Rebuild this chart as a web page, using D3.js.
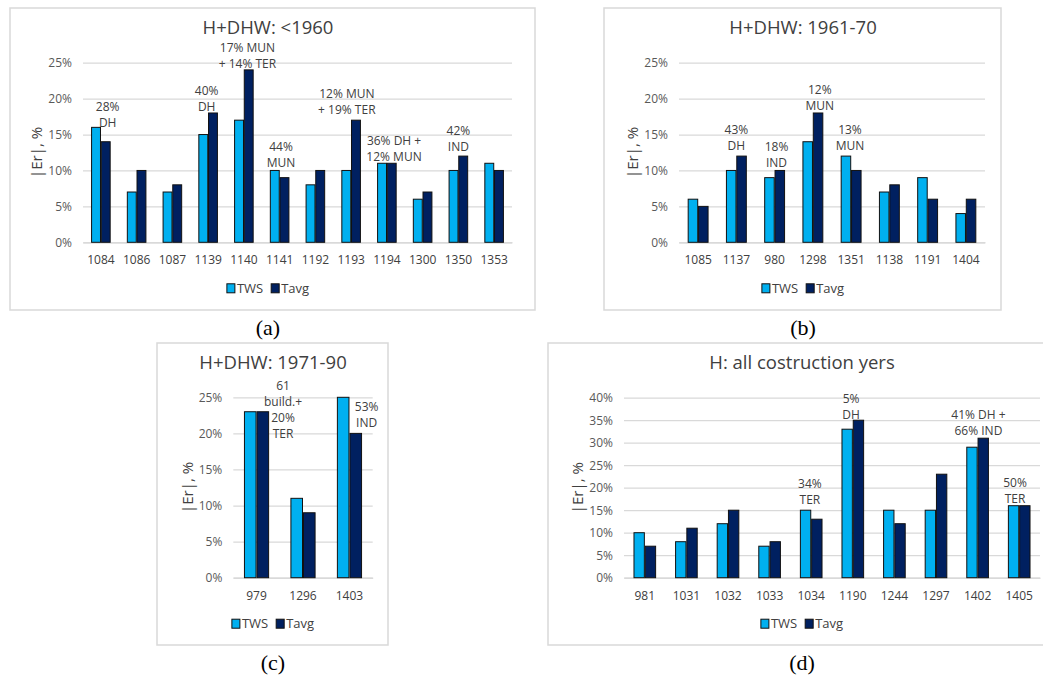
<!DOCTYPE html>
<html>
<head>
<meta charset="utf-8">
<script src="https://cdn.jsdelivr.net/npm/d3@7"></script>
<style>
  body { margin: 0; background: #fff; }
  svg { display: block; }
  text { font-family: "Open Sans", "Noto Sans", sans-serif; }
</style>
</head>
<body>
<svg id="chart" width="1043" height="680"></svg>
<script>
// ---- Data -------------------------------------------------------------
const seriesNames  = ["TWS", "Tavg"];
const seriesColors = ["#00B0F0", "#002060"];

const ticks25 = [0, 5, 10, 15, 20, 25];
const ticks40 = [0, 5, 10, 15, 20, 25, 30, 35, 40];

// (a) H+DHW, built before 1960
const catsA = ["1084", "1086", "1087", "1139", "1140", "1141", "1192", "1193", "1194", "1300", "1350", "1353"];
const twsA  = [16, 7, 7, 15, 17, 10, 8, 10, 11, 6, 10, 11];
const tavgA = [14, 10, 8, 18, 24, 9, 10, 17, 11, 7, 12, 10];
const notesA = [
  { cat: "1084", lines: ["28%", "DH"], at: 16.7 },
  { cat: "1139", lines: ["40%", "DH"], at: 18.8 },
  { cat: "1140", lines: ["17% MUN", "+ 14% TER"], at: 24.9 },
  { cat: "1141", lines: ["44%", "MUN"], at: 11.1 },
  { cat: "1193", lines: ["12% MUN", "+ 19% TER"], at: 18.4 },
  { cat: "1194", lines: ["36% DH +", "12% MUN"], at: 11.9 },
  { cat: "1350", lines: ["42%", "IND"], at: 13.3 }
];

// (b) H+DHW, built 1961-70
const catsB = ["1085", "1137", "980", "1298", "1351", "1138", "1191", "1404"];
const twsB  = [6, 10, 9, 14, 12, 7, 9, 4];
const tavgB = [5, 12, 10, 18, 10, 8, 6, 6];
const notesB = [
  { cat: "1137", lines: ["43%", "DH"], at: 13.4 },
  { cat: "980",  lines: ["18%", "IND"], at: 11.1 },
  { cat: "1298", lines: ["12%", "MUN"], at: 19.0 },
  { cat: "1351", lines: ["13%", "MUN"], at: 13.4 }
];

// (c) H+DHW, built 1971-90
const catsC = ["979", "1296", "1403"];
const twsC  = [23, 11, 25];
const tavgC = [23, 9, 20];
const notesC = [
  { cat: "979",  lines: ["61", "build.+", "20%", "TER"], at: 20.0 },
  { cat: "1403", lines: ["53%", "IND"], at: 21.4 }
];

// (d) H only, all construction years
const catsD = ["981", "1031", "1032", "1033", "1034", "1190", "1244", "1297", "1402", "1405"];
const twsD  = [10, 8, 12, 7, 15, 33, 15, 15, 29, 16];
const tavgD = [7, 11, 15, 8, 13, 35, 12, 23, 31, 16];
const notesD = [
  { cat: "1034", lines: ["34%", "TER"], at: 17.3 },
  { cat: "1190", lines: ["5%", "DH"], at: 36.3 },
  { cat: "1402", lines: ["41% DH +", "66% IND"], at: 32.6 },
  { cat: "1405", lines: ["50%", "TER"], at: 17.6 }
];

// ---- Layout -----------------------------------------------------------
// box: [x, y, w, h]; plot: [left, top, right, bottom]
// shift: horizontal nudge of a note, as a fraction of the category step
const panels = [
  { title: "H+DHW: <1960", tag: "(a)", cats: catsA, tws: twsA, tavg: tavgA, notes: notesA,
    ticks: ticks25, box: [10, 8, 525, 302], plot: [83, 62.7, 512, 242.3], center: 268,
    shift: { "1084": 0.19, "1139": -0.04, "1140": 0.1, "1141": 0.04, "1193": -0.12, "1194": 0.2, "1350": 0 } },
  { title: "H+DHW: 1961-70", tag: "(b)", cats: catsB, tws: twsB, tavg: tavgB, notes: notesB,
    ticks: ticks25, box: [604, 8, 397, 302], plot: [679, 62.7, 985, 242.3], center: 803,
    shift: { "1137": 0, "980": 0.05, "1298": 0.18, "1351": -0.03 } },
  { title: "H+DHW: 1971-90", tag: "(c)", cats: catsC, tws: twsC, tavg: tavgC, notes: notesC,
    ticks: ticks25, box: [157, 343, 231, 302], plot: [233.3, 397.3, 372.7, 577.7], center: 273,
    shift: { "979": 0.57, "1403": 0.37 } },
  { title: "H: all costruction yers", tag: "(d)", cats: catsD, tws: twsD, tavg: tavgD, notes: notesD,
    ticks: ticks40, box: [548, 343, 510, 302], plot: [624, 397.7, 1040, 577.7], center: 802,
    shift: { "1034": -0.03, "1190": -0.04, "1402": 0.02, "1405": -0.1 } }
];

const svg = d3.select("#chart");
const textGrey = "#595959";
const darkGrey = "#404040";
const gridGrey = "#d9d9d9";

function drawPanel(p) {
  const [bx, by, bw, bh] = p.box;
  const [L, T, R, B] = p.plot;
  const cxPanel = p.center;
  const g = svg.append("g");

  g.append("rect")
    .attr("x", bx).attr("y", by).attr("width", bw).attr("height", bh)
    .attr("fill", "#fff").attr("stroke", gridGrey).attr("stroke-width", 1.5);

  const x = d3.scaleBand().domain(p.cats).range([L, R]).paddingInner(0.48).paddingOuter(0.24);
  const xs = d3.scaleBand().domain(seriesNames).range([0, x.bandwidth()]).paddingInner(0.08);
  const y = d3.scaleLinear().domain([0, d3.max(p.ticks)]).range([B, T]);
  const color = d3.scaleOrdinal().domain(seriesNames).range(seriesColors);

  // gridlines + value ticks
  g.append("g")
    .attr("transform", `translate(${L},0)`)
    .call(d3.axisLeft(y).tickValues(p.ticks).tickSize(-(R - L)).tickPadding(11).tickFormat(d => d + "%"))
    .call(s => s.select(".domain").remove())
    .call(s => s.selectAll(".tick line").attr("stroke", gridGrey).attr("stroke-width", 1.3))
    .call(s => s.selectAll(".tick text").attr("fill", textGrey).attr("font-size", 12)
      .style("font-family", '"Open Sans", sans-serif'));

  // category axis
  g.append("g")
    .attr("transform", `translate(0,${B})`)
    .call(d3.axisBottom(x).tickSize(0).tickPadding(13.5))
    .call(s => s.select(".domain").attr("stroke", gridGrey).attr("stroke-width", 1.5))
    .call(s => s.selectAll(".tick text").attr("fill", darkGrey).attr("font-size", 12)
      .style("font-family", '"Open Sans", sans-serif'));

  // bars
  const rows = p.cats.map((c, i) => ({ cat: c, vals: [p.tws[i], p.tavg[i]] }));
  g.append("g").selectAll("g").data(rows).join("g")
    .attr("transform", d => `translate(${x(d.cat)},0)`)
    .selectAll("rect")
    .data(d => d.vals.map((v, k) => ({ key: seriesNames[k], v })))
    .join("rect")
    .attr("x", d => xs(d.key))
    .attr("width", xs.bandwidth())
    .attr("y", d => y(d.v))
    .attr("height", d => y(0) - y(d.v))
    .attr("fill", d => color(d.key))
    .attr("stroke", "#111")
    .attr("stroke-width", 1);

  // notes over bars
  const step = x.step();
  p.notes.forEach(n => {
    const cx = x(n.cat) + x.bandwidth() / 2 + (p.shift[n.cat] || 0) * step;
    const last = n.lines.length - 1;
    const t = g.append("text")
      .attr("text-anchor", "middle")
      .attr("fill", darkGrey)
      .attr("font-size", 12);
    n.lines.forEach((line, i) => {
      t.append("tspan")
        .attr("x", cx)
        .attr("y", y(n.at) - (last - i) * 16)
        .attr("dy", "0.35em")
        .text(line);
    });
  });

  // y-axis title
  g.append("text")
    .attr("transform", `translate(${L - 46},${(T + B) / 2}) rotate(-90)`)
    .attr("text-anchor", "middle")
    .attr("dy", "0.35em")
    .attr("fill", darkGrey)
    .attr("font-size", 15)
    .text("|Er|, %");

  // chart title
  g.append("text")
    .attr("x", cxPanel).attr("y", by + 20)
    .attr("text-anchor", "middle").attr("dy", "0.35em")
    .attr("fill", darkGrey).attr("font-size", 18.5)
    .text(p.title);

  // legend
  const lg = g.append("g");
  let cursor = 0;
  seriesNames.forEach((name, k) => {
    const item = lg.append("g").attr("transform", `translate(${cursor},0)`);
    item.append("rect").attr("x", 0).attr("y", -4.5).attr("width", 8).attr("height", 9)
      .attr("fill", seriesColors[k]).attr("stroke", "#111").attr("stroke-width", 1);
    const tx = item.append("text").attr("x", 10).attr("dy", "0.35em")
      .attr("fill", darkGrey).attr("font-size", 13).text(name);
    cursor += 10 + tx.node().getComputedTextLength() + 8;
  });
  const lw = cursor - 8;
  lg.attr("transform", `translate(${cxPanel - lw / 2},${B + 46})`);

  // panel tag below the frame
  svg.append("text")
    .attr("x", cxPanel).attr("y", by + bh + 17)
    .attr("text-anchor", "middle").attr("dy", "0.35em")
    .attr("fill", "#000").attr("font-size", 22)
    .style("font-family", '"Liberation Serif", "Times New Roman", serif')
    .text(p.tag);
}

panels.forEach(drawPanel);
</script>
</body>
</html>
